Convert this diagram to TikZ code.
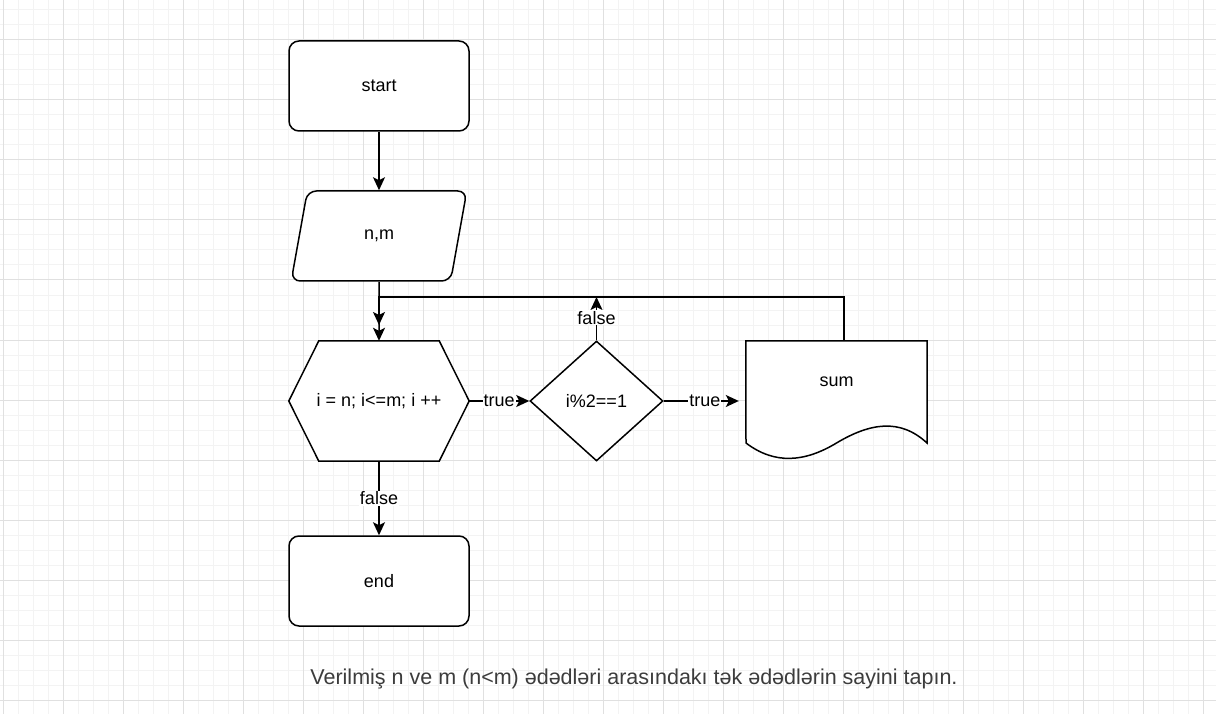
\documentclass[tikz,border=0pt]{standalone}
\usepackage{fontspec}
\setmainfont{Liberation Sans}
\usetikzlibrary{shapes.geometric, arrows.meta}
\definecolor{gridminor}{HTML}{F3F3F3}
\definecolor{gridmajor}{HTML}{E0E0E0}
\definecolor{capgray}{HTML}{3C3C3C}
\tikzset{>={Stealth[length=13pt,width=12pt,inset=3pt,line width=0pt]}}
\tikzset{
  block/.style={draw, line width=1.5pt, fill=white, font=\fontsize{18}{21}\selectfont},
  termbox/.style={block, rectangle, rounded corners=10pt, minimum width=180pt, minimum height=90pt},
  iobox/.style={block, trapezium, trapezium stretches=true, trapezium left angle=77.5,
    trapezium right angle=102.5, rounded corners=9pt, minimum width=176pt, minimum height=90pt},
  loopbox/.style={font=\fontsize{18}{21}\selectfont, minimum width=180pt, minimum height=120pt, inner sep=0pt},
  testbox/.style={block, diamond, minimum width=133pt, minimum height=120pt, inner sep=0pt},
  docbox/.style={minimum width=181pt, minimum height=120pt, inner sep=0pt},
  outline/.style={line width=1.5pt, fill=white},
  edgelabel/.style={fill=white, inner sep=1pt, font=\fontsize{18}{21}\selectfont},
  flow/.style={line width=1.5pt, -{Stealth[length=13pt,width=12pt,inset=3pt]}},
  caption/.style={text=capgray, font=\fontsize{21.5}{25}\selectfont},
}

\begin{document}
\begin{tikzpicture}[x=1pt, y=-1pt]
\useasboundingbox (0,0) rectangle (1216,714);
% background grid
\fill[white] (0,0) rectangle (1216,714);
\draw[gridminor, line width=1pt, shift={(3,40)}] (-3,-40) grid[step=15pt] (1213,674);
\draw[gridmajor, line width=1pt, shift={(3,40)}] (-3,-40) grid[step=60pt] (1213,674);

% shapes
\node[termbox] (start) at (379,86) {start};
\node[iobox] (io) at (379,236) {n,m};
\node[loopbox] (loop) at (379,401) {};
\draw[outline] (loop.west) -- ([xshift=30pt]loop.north west) -- ([xshift=-30pt]loop.north east)
  -- (loop.east) -- ([xshift=-30pt]loop.south east) -- ([xshift=30pt]loop.south west) -- cycle;
\node[loopbox] (looptext) at (loop.center) {i = n; i<=m; i ++};
\node[testbox] (test) at (596.5,401) {i\%2==1};
\node[termbox] (end) at (379,581) {end};
\node[docbox] (sum) at (836.5,401) {};
\draw[outline] (sum.north west) -- (sum.north east) -- (927,443)
  .. controls (900,418) and (870,423) .. (836.5,443)
  .. controls (805,462) and (775,465) .. (746,443) -- cycle;
\node[font=\fontsize{18}{21}\selectfont] (sumtext) at (836.5,382) {sum};

% connectors
\coordinate (back) at (844,297);
\coordinate (join) at (379,325);
\draw[flow] (start) -- (io);
\draw[flow] (io) -- (loop);
\draw[flow] (back |- sum.north) -- (back) -| (join);
\draw[flow] (loop) -- node[edgelabel] {true} (test);
\draw[flow, shorten >=7pt] (test) -- node[edgelabel] {true} (sum);
\draw[flow] (test) -- node[edgelabel, yshift=1pt] {false} (test.north |- back);
\draw[flow] (loop) -- node[edgelabel] {false} (end);

\node[caption] (task) at (634,679) {Verilmiş n ve m (n<m) ədədləri arasındakı tək ədədlərin sayini tapın.};
\end{tikzpicture}
\end{document}
